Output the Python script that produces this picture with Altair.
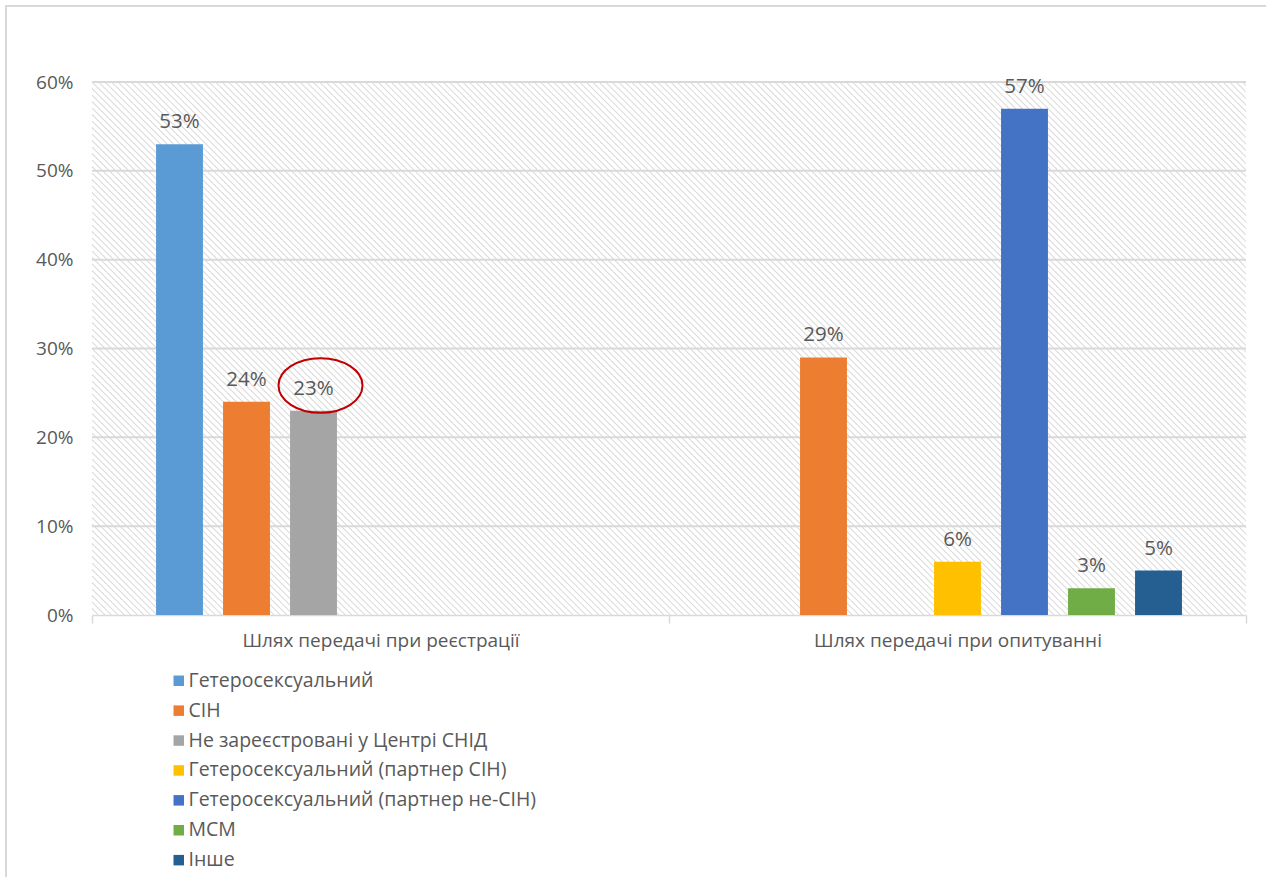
import altair as alt
import numpy as np
import pandas as pd

groups = ["Шлях передачі при реєстрації", "Шлях передачі при опитуванні"]
series = [
    "Гетеросексуальний",
    "СІН",
    "Не зареєстровані у Центрі СНІД",
    "Гетеросексуальний (партнер СІН)",
    "Гетеросексуальний (партнер не-СІН)",
    "МСМ",
    "Інше",
]
colors = ["#5B9BD5", "#ED7D31", "#A5A5A5", "#FFC000", "#4472C4", "#70AD47", "#255E91"]
values_registration = [0.53, 0.24, 0.23, None, None, None, None]
values_survey = [None, 0.29, None, 0.06, 0.57, 0.03, 0.05]
y_ticks = [0, 0.1, 0.2, 0.3, 0.4, 0.5, 0.6]

rows = []
for g, vals in zip(groups, [values_registration, values_survey]):
    for s, v in zip(series, vals):
        if v is not None:
            rows.append({"group": g, "series": s, "value": v})
df = pd.DataFrame(rows)

W, H = 1154, 533
FONT = "Open Sans"
GRAY = "#595959"

# background hatch (decorative texture of the plot area)
starts = np.arange(-H, W + 7, 6.5)
hatch = pd.DataFrame({"hx": starts, "hy": 0, "hx2": starts + H, "hy2": H})
hatch_layer = alt.Chart(hatch).mark_rule(
    stroke="#dadada", strokeWidth=1.05, clip=True
).encode(
    x=alt.X("hx:Q", scale=None, axis=None),
    y=alt.Y("hy:Q", scale=None, axis=None),
    x2="hx2:Q",
    y2="hy2:Q",
)

xenc = alt.X(
    "group:N",
    sort=groups,
    scale=alt.Scale(domain=groups, paddingInner=0, paddingOuter=0),
    axis=alt.Axis(
        title=None, labelAngle=0, labelFontSize=19, labelColor=GRAY, labelFont=FONT,
        domainColor="#d9d9d9", domainWidth=1.5, tickColor="#d9d9d9", tickWidth=1.5,
        tickSize=8, tickBand="extent", labelPadding=8, grid=False, labelLimit=800,
    ),
)
xoff = alt.XOffset(
    "series:N",
    scale=alt.Scale(domain=series, paddingInner=0.3, paddingOuter=0.956),
)
yscale = alt.Scale(domain=[0, 0.6], nice=False)
yenc = alt.Y(
    "value:Q",
    scale=yscale,
    axis=alt.Axis(
        title=None, format=".0%", values=y_ticks,
        labelFontSize=19, labelColor=GRAY, labelFont=FONT, labelPadding=19,
        ticks=False, domain=False, grid=False,
    ),
)

grid = alt.Chart(pd.DataFrame({"t": y_ticks[1:]})).mark_rule(
    stroke="#d9d9d9", strokeWidth=2
).encode(
    y=alt.Y("t:Q", scale=yscale),
    x=alt.value(0),
    x2=alt.value(W),
)

bars = alt.Chart(df).mark_bar().encode(
    x=xenc,
    xOffset=xoff,
    y=yenc,
    color=alt.Color(
        "series:N",
        scale=alt.Scale(domain=series, range=colors),
        legend=alt.Legend(
            title=None, orient="none", legendX=77, legendY=589, direction="vertical",
            symbolType="square", symbolSize=110, symbolStrokeWidth=0,
            labelFontSize=19.5, labelColor=GRAY, labelFont=FONT, rowPadding=8.9,
            labelOffset=0, labelLimit=600,
        ),
    ),
)

labels = alt.Chart(df).mark_text(
    baseline="middle", dy=-22, fontSize=20.5, color=GRAY, font=FONT
).encode(
    x=alt.X("group:N", sort=groups),
    xOffset=alt.XOffset("series:N"),
    y="value:Q",
    text=alt.Text("value:Q", format=".0%"),
)

# red ellipse annotation around the 23% label
ann = pd.DataFrame({"group": [groups[0]], "series": [series[2]], "value": [0.23]})
ellipse_path = "M -0.833,-0.6 A 1,0.65 0 1,0 1.167,-0.6 A 1,0.65 0 1,0 -0.833,-0.6 Z"
ellipse = alt.Chart(ann).mark_point(
    shape=ellipse_path, size=7056, filled=False, stroke="#C00000", strokeWidth=2, opacity=1
).encode(
    x=alt.X("group:N", sort=groups),
    xOffset=alt.XOffset("series:N"),
    y="value:Q",
)

# outer chart frame
frame = alt.Chart(pd.DataFrame({"a": [0]})).mark_rect(
    fill="transparent", stroke="#d9d9d9", strokeWidth=2
).encode(
    x=alt.value(-86), x2=alt.value(W + 200),
    y=alt.value(-76), y2=alt.value(H + 300),
)

main = alt.layer(grid, bars, labels, ellipse)

chart = alt.layer(hatch_layer, main, frame).resolve_scale(
    x="independent", y="independent"
).properties(
    width=W,
    height=H,
    autosize=alt.AutoSizeParams(type="none"),
    padding={"left": 92, "top": 82, "right": 20, "bottom": 262},
    background="white",
).configure_view(stroke=None)

chart.save("out.html", embed_options={"renderer": "svg", "actions": False})
